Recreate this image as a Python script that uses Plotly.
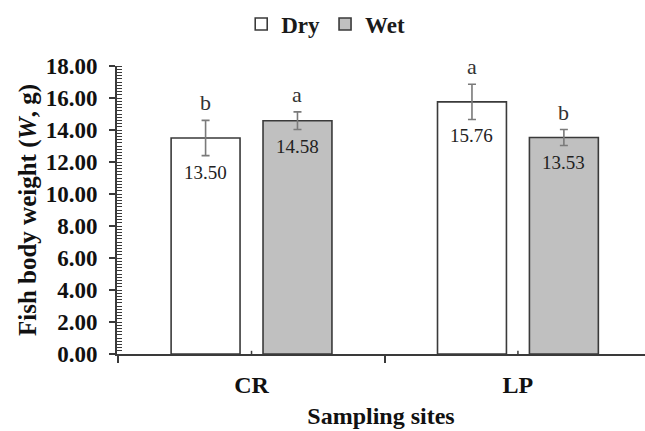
import plotly.graph_objects as go

# ---- data ----
sites = ["CR", "LP"]
dry_vals = [13.50, 15.76]
wet_vals = [14.58, 13.53]
dry_err = [1.10, 1.10]
wet_err = [0.55, 0.50]
dry_letters = ["b", "a"]
wet_letters = ["a", "b"]
y_ticks = [0, 2, 4, 6, 8, 10, 12, 14, 16, 18]

# ---- style ----
FONT = "Liberation Serif, Times New Roman, serif"
BARGAP = 0.31
BARGROUPGAP = 0.25
EDGE = "#3a3a3a"
ERRC = "#7a7a7a"

fig = go.Figure()
fig.add_trace(go.Bar(
    name="Dry", x=sites, y=dry_vals,
    marker=dict(color="white", line=dict(color=EDGE, width=1.6)),
    error_y=dict(type="data", array=dry_err, color=ERRC, thickness=1.6, width=4),
))
fig.add_trace(go.Bar(
    name="Wet", x=sites, y=wet_vals,
    marker=dict(color="#c0c0c0", line=dict(color=EDGE, width=1.6)),
    error_y=dict(type="data", array=wet_err, color=ERRC, thickness=1.6, width=4),
))

slot = (1 - BARGAP) / 2
off = slot / 2
annotations = []
for i in range(len(sites)):
    for sign, vals, errs, letters in ((-1, dry_vals, dry_err, dry_letters),
                                      (1, wet_vals, wet_err, wet_letters)):
        xc = i + sign * off
        annotations.append(dict(
            x=xc, y=vals[i] + errs[i], xref="x", yref="y", text=letters[i],
            showarrow=False, yanchor="bottom", yshift=3,
            font=dict(family=FONT, size=22, color="#333333")))
        annotations.append(dict(
            x=xc, y=vals[i] - errs[i], xref="x", yref="y", text=f"{vals[i]:.2f}",
            showarrow=False, yanchor="top", yshift=-4,
            font=dict(family=FONT, size=19, color="#222222")))

shapes = []
for i in range(len(sites)):
    shapes.append(dict(type="line", xref="x", yref="y", x0=i, x1=i, y0=0, y1=0.2,
                       line=dict(color=EDGE, width=1.5)))

fig.update_layout(
    width=645, height=431,
    margin=dict(l=117, r=0, t=66, b=77),
    paper_bgcolor="white", plot_bgcolor="white",
    barmode="group", bargap=BARGAP, bargroupgap=BARGROUPGAP,
    font=dict(family=FONT, color="#111111"),
    showlegend=True,
    legend=dict(orientation="h", xref="container", yref="container",
                x=0.505, xanchor="center", y=1 - 24 / 431, yanchor="middle",
                font=dict(family=FONT, size=23, color="#1a1a1a", weight="bold"),
                itemwidth=30, tracegroupgap=0, traceorder="normal"),
    xaxis=dict(
        type="category", range=[-0.505, 1.477],
        showline=True, linecolor=EDGE, linewidth=1.6,
        ticks="outside", tickson="boundaries", ticklen=7, tickcolor=EDGE, tickwidth=1.5,
        tickfont=dict(family=FONT, size=24, color="#111111", weight="bold"),
        ticklabelstandoff=8,
        title=dict(text="Sampling sites",
                   font=dict(family=FONT, size=24, color="#111111", weight="bold"),
                   standoff=11),
        showgrid=False, zeroline=False, fixedrange=True,
    ),
    yaxis=dict(
        range=[0, 18], tickvals=y_ticks, ticktext=[f"{v:.2f}" for v in y_ticks],
        showline=True, linecolor=EDGE, linewidth=1.6,
        ticks="outside", ticklen=6, tickcolor=EDGE, tickwidth=1.5,
        minor=dict(ticks="inside", dtick=0.2, ticklen=5, tickcolor=EDGE, tickwidth=1),
        tickfont=dict(family=FONT, size=23, color="#111111", weight="bold"),
        ticklabelstandoff=7,
        title=dict(text="Fish body weight (<i>W</i>, g)",
                   font=dict(family=FONT, size=25, color="#111111", weight="bold"),
                   standoff=2),
        showgrid=False, zeroline=False, fixedrange=True,
    ),
    yaxis2=dict(
        overlaying="y", range=[0, 18], tickvals=y_ticks, showticklabels=False,
        ticks="inside", ticklen=7, tickcolor=EDGE, tickwidth=1.5,
        showline=False, showgrid=False, zeroline=False, side="left", fixedrange=True,
    ),
    annotations=annotations,
    shapes=shapes,
)

fig.write_html("out.html", config={"displayModeBar": False},
               post_script="document.body.style.margin='0';")
